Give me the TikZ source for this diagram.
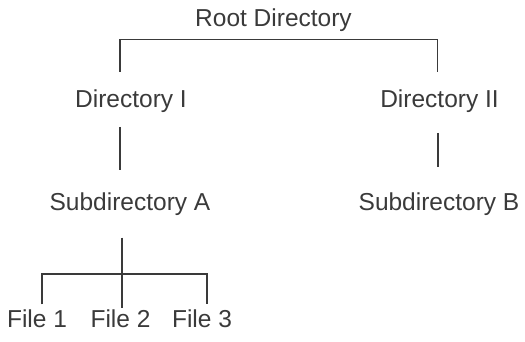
\documentclass[tikz,border=0pt]{standalone}
\usepackage{fontspec}
\setmainfont{Liberation Sans}
\definecolor{ink}{HTML}{3A3A3A}
\begin{document}
\begin{tikzpicture}[x=1pt,y=-1pt,
  lbl/.style={anchor=base,inner sep=0pt,text=ink,font=\fontsize{24.5}{27}\selectfont},
  conn/.style={draw=ink,line width=1.7pt}]
\useasboundingbox (0,0) rectangle (525,342);
% labels
\node[lbl] (root) at (273.5,26.7) {Root Directory};
\node[lbl] (d1) at (131,108) {Directory I};
\node[lbl] (d2) at (439.5,108) {Directory II};
\node[lbl] (sa) at (130,211) {Subdirectory A};
\node[lbl] (sb) at (439,211) {Subdirectory B};
\node[lbl] (f1) at (37,327.7) {File 1};
\node[lbl] (f2) at (120.5,327.7) {File 2};
\node[lbl] (f3) at (202,327.7) {File 3};
% connector points
\coordinate (rl) at (120,39.5);
\coordinate (rr) at (437.5,39.5);
\coordinate (d1t) at (120,71.7);
\coordinate (d2t) at (437.5,71.7);
\coordinate (d1b) at (120,127);
\coordinate (sat) at (120,170);
\coordinate (d2b) at (438,133);
\coordinate (sbt) at (438,167);
\coordinate (sab) at (122,237.7);
\coordinate (f2t) at (122,307.7);
\coordinate (hl) at (41.7,274.3);
\coordinate (hr) at (207.3,274.3);
\coordinate (f1t) at (41.7,304.3);
\coordinate (f3t) at (207.3,304.3);
% connectors
\draw[conn] (d1t) -- (rl) -- (rr) -- (d2t);
\draw[conn] (d1b) -- (sat);
\draw[conn] (d2b) -- (sbt);
\draw[conn] (sab) -- (f2t);
\draw[conn] (f1t) -- (hl) -- (hr) -- (f3t);
\end{tikzpicture}
\end{document}
